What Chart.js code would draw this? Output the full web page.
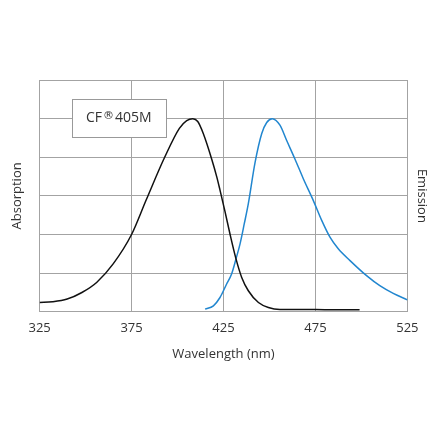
<!DOCTYPE html>
<html>
<head>
<meta charset="utf-8">
<script src="https://cdn.jsdelivr.net/npm/chart.js@4/dist/chart.umd.min.js"></script>
<style>
  body { margin: 0; background: #fff; }
  #wrap { width: 440px; height: 441px; }
</style>
</head>
<body>
<div id="wrap"><canvas id="chart" width="440" height="441"></canvas></div>
<script>
// Absorption (black) curve, wavelength in nm
const absWl  = [325, 332, 340, 348, 356, 365, 375, 383, 393, 401, 405, 408.3, 411, 414, 418.6, 421.3, 423.1, 425.8, 428.5, 431.8, 434.9, 438.5, 444, 449.4, 455.7, 467, 480, 499];
const absVal = [0.048, 0.052, 0.066, 0.1, 0.152, 0.248, 0.40, 0.58, 0.80, 0.95, 0.99, 1.0, 0.985, 0.923, 0.79, 0.70, 0.63, 0.52, 0.404, 0.274, 0.178, 0.109, 0.048, 0.022, 0.012, 0.012, 0.011, 0.01];

// Emission (blue) curve
const emWl  = [415, 419.5, 423.1, 426.7, 429.4, 431.8, 434, 436.3, 438.5, 442.1, 445.8, 448.5, 451.5, 455.7, 459.3, 463.9, 468.4, 473.8, 478.4, 482.9, 487.4, 493.8, 502.8, 510, 517.3, 525];
const emVal = [0.014, 0.031, 0.074, 0.144, 0.196, 0.274, 0.352, 0.456, 0.56, 0.77, 0.923, 0.98, 1.0, 0.966, 0.888, 0.79, 0.689, 0.577, 0.473, 0.386, 0.326, 0.265, 0.187, 0.135, 0.095, 0.062];

const xTicks = [325, 375, 425, 475, 525];

const gridCol = '#a3a3a3';
const textCol = '#333';

// legend box with the dye name
const labelBox = {
  id: 'labelBox',
  afterDraw(chart) {
    const ctx = chart.ctx;
    ctx.save();
    ctx.fillStyle = '#fff';
    ctx.strokeStyle = '#999';
    ctx.lineWidth = 1;
    ctx.fillRect(72.5, 99.5, 94, 38);
    ctx.strokeRect(72.5, 99.5, 94, 38);
    ctx.fillStyle = textCol;
    ctx.textBaseline = 'middle';
    ctx.font = '14px "Open Sans"';
    let x = 86;
    ctx.fillText('CF', x, 118);
    x += ctx.measureText('CF').width + 1;
    ctx.font = '11px "DejaVu Sans"';
    ctx.fillText('®', x, 116);
    x += ctx.measureText('®').width + 1;
    ctx.font = '14px "Open Sans"';
    ctx.fillText('405M', x, 118);
    ctx.restore();
  }
};

new Chart(document.getElementById('chart'), {
  type: 'line',
  data: {
    datasets: [
      {
        label: 'Absorption',
        data: absWl.map((w, i) => ({ x: w, y: absVal[i] })),
        borderColor: '#111',
        borderWidth: 1.5,
        pointRadius: 0,
        cubicInterpolationMode: 'monotone',
        yAxisID: 'y'
      },
      {
        label: 'Emission',
        data: emWl.map((w, i) => ({ x: w, y: emVal[i] })),
        borderColor: '#2186cf',
        borderWidth: 1.5,
        pointRadius: 0,
        cubicInterpolationMode: 'monotone',
        yAxisID: 'y2'
      }
    ]
  },
  options: {
    responsive: false,
    animation: false,
    layout: { padding: { top: 80, left: 9, right: 10, bottom: 75 } },
    plugins: { legend: { display: false }, tooltip: { enabled: false } },
    scales: {
      x: {
        type: 'linear',
        min: 325, max: 525,
        afterBuildTicks: s => { s.ticks = xTicks.map(v => ({ value: v })); },
        grid: { color: gridCol, drawTicks: false },
        border: { color: gridCol },
        ticks: { color: textCol, font: { family: 'Open Sans', size: 13 }, padding: 9 },
        title: { display: true, text: 'Wavelength (nm)', color: textCol, font: { family: 'Open Sans', size: 13 }, padding: { top: 1 } }
      },
      y: {
        min: 0, max: 1.2,
        ticks: { display: false, stepSize: 0.2 },
        grid: { color: gridCol, drawTicks: false },
        border: { color: gridCol },
        title: { display: true, text: 'Absorption', color: textCol, font: { family: 'Open Sans', size: 13 }, padding: { top: 0, bottom: 15 } }
      },
      y2: {
        position: 'right',
        min: 0, max: 1.2,
        ticks: { display: false },
        grid: { display: false, drawTicks: false },
        border: { color: gridCol },
        title: { display: true, text: 'Emission', color: textCol, font: { family: 'Open Sans', size: 13 }, padding: { top: 0, bottom: 7 } }
      }
    }
  },
  plugins: [labelBox]
});
</script>
</body>
</html>
